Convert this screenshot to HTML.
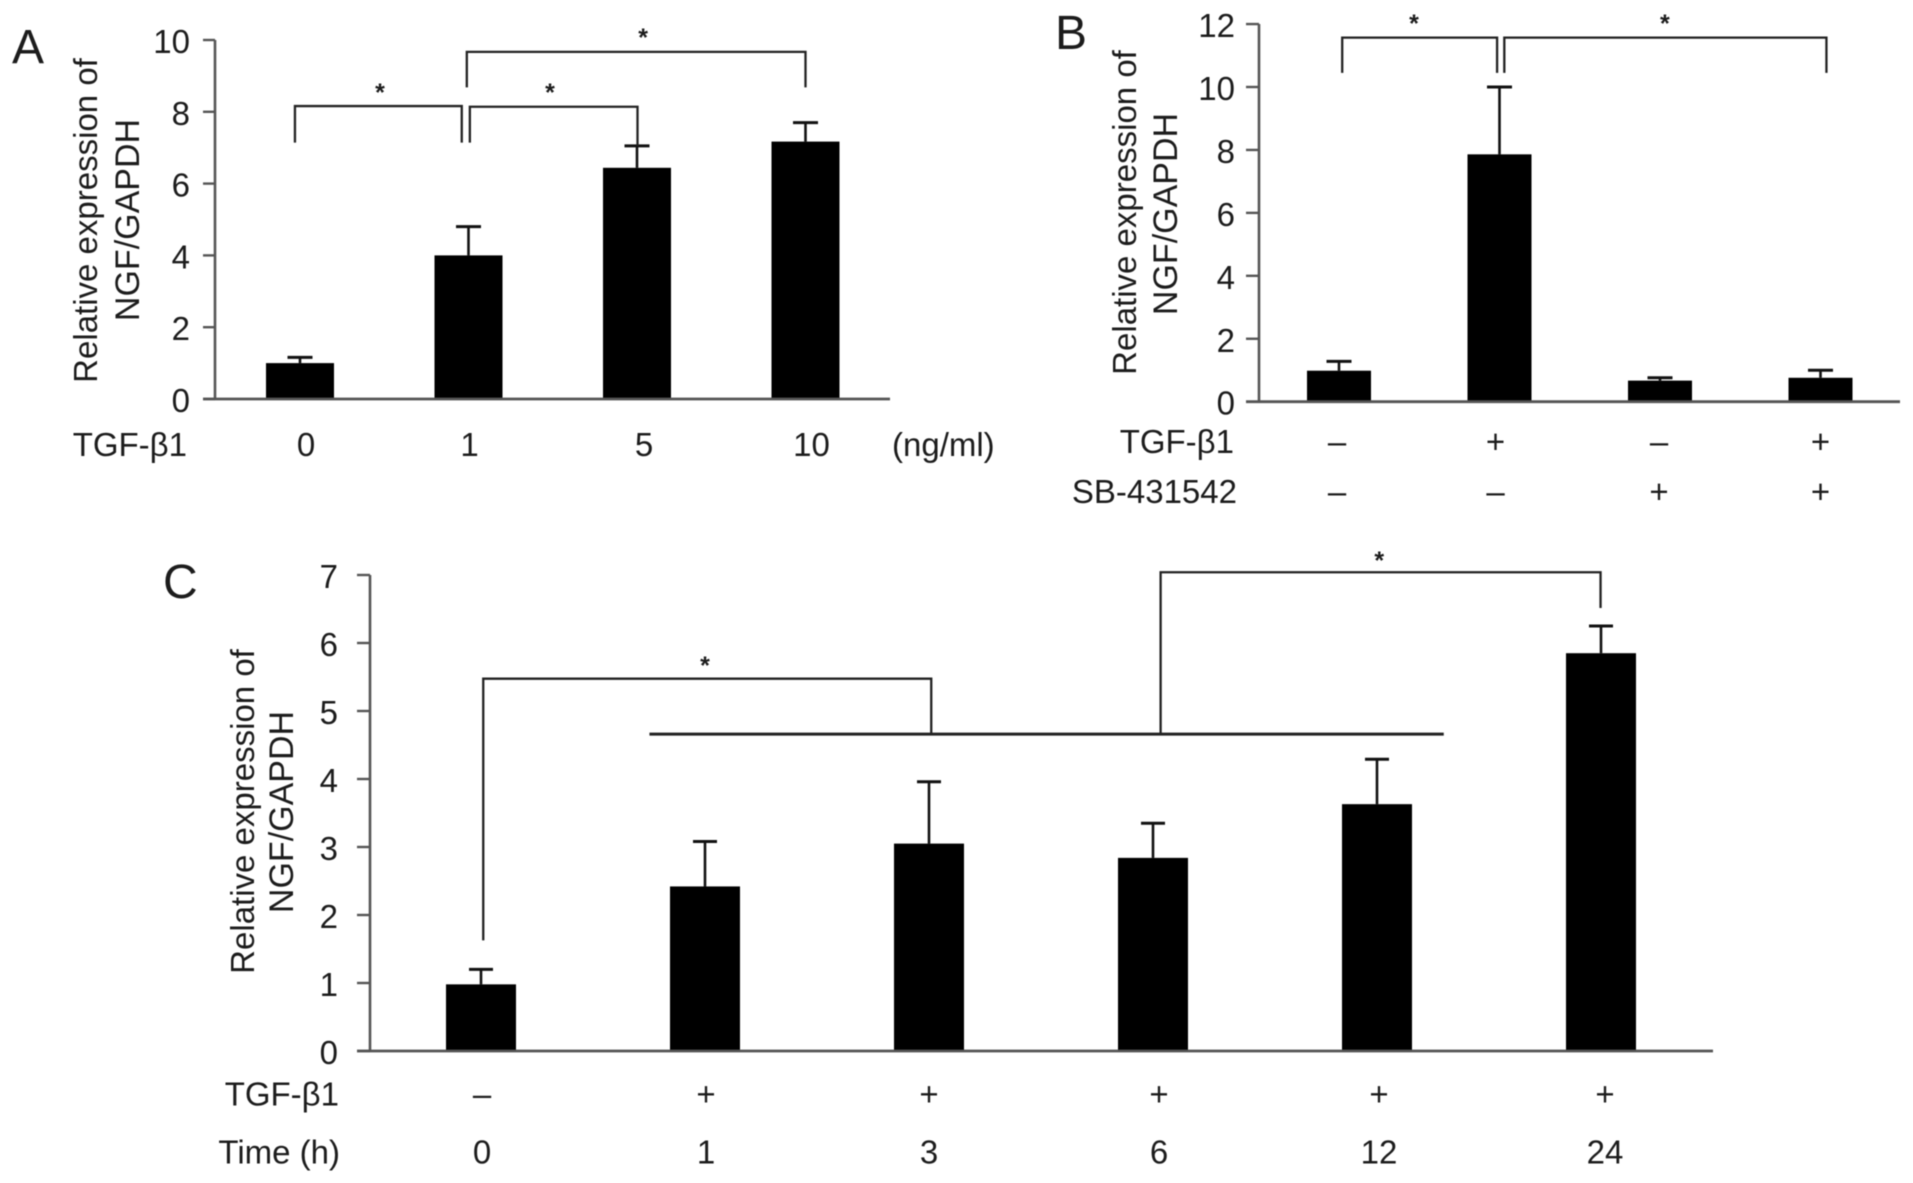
<!DOCTYPE html>
<html lang="en">
<head>
<meta charset="utf-8">
<title>NGF/GAPDH relative expression</title>
<style>
  html, body { margin: 0; padding: 0; background: #fff; }
  #figure { display: block; width: 1913px; height: 1183px; filter: blur(0.45px); }
  text { font-family: "Liberation Sans", "DejaVu Sans", sans-serif; fill: #1c1c1c; }
  .axis-title, .tick, .row { font-size: 33px; }
  .axis-title.second { font-size: 34px; }
  .panel-letter { font-size: 48px; }
  .star { font-size: 25px; font-weight: bold; text-anchor: middle; }
</style>
</head>
<body>
<svg id="figure" xmlns="http://www.w3.org/2000/svg" width="1913" height="1183" viewBox="0 0 1913 1183">
  <rect width="1913" height="1183" fill="#fff"/>

  <text class="panel-letter" x="12" y="63">A</text>
  <text class="panel-letter" x="1055" y="49">B</text>
  <text class="panel-letter" x="163" y="598">C</text>

  <text class="axis-title" text-anchor="middle" transform="translate(97 220.5) rotate(-90)">Relative expression of</text>
  <text class="axis-title second" text-anchor="middle" transform="translate(139 220) rotate(-90)">NGF/GAPDH</text>

  <text class="axis-title" text-anchor="middle" transform="translate(1136 212.5) rotate(-90)">Relative expression of</text>
  <text class="axis-title second" text-anchor="middle" transform="translate(1177 214) rotate(-90)">NGF/GAPDH</text>

  <text class="axis-title" text-anchor="middle" transform="translate(254 811.5) rotate(-90)">Relative expression of</text>
  <text class="axis-title second" text-anchor="middle" transform="translate(293 812) rotate(-90)">NGF/GAPDH</text>

  <text class="row" text-anchor="end" x="187" y="456">TGF-β1</text>
  <text class="row" x="892" y="456">(ng/ml)</text>

  <text class="row" text-anchor="end" x="1234" y="453">TGF-β1</text>
  <text class="row" text-anchor="end" x="1237" y="503">SB-431542</text>

  <text class="row" text-anchor="end" x="339" y="1105.5">TGF-β1</text>
  <text class="row" text-anchor="end" x="340" y="1163.5">Time (h)</text>
</svg>

<script>
// ---- Panel A data ----
const panelATicks = [0, 2, 4, 6, 8, 10];
const panelAValues = [1.0, 4.0, 6.44, 7.17];
const panelAErrorTops = [1.16, 4.8, 7.05, 7.7];
const panelADoseLabels = ['0', '1', '5', '10'];
// Brackets: category positions and axis values [from, to, top, leftEnd, rightEnd]
const panelABrackets = [
  [-0.03, 0.96, 8.16, 7.14, 7.14],
  [1.008, 2.003, 8.14, 7.14, 7.05],
  [0.99, 3.0, 9.67, 8.68, 8.68]
];
const panelAStars = [[0.475, 8.66], [1.484, 8.66], [2.036, 10.2]];

// ---- Panel B data ----
const panelBTicks = [0, 2, 4, 6, 8, 10, 12];
const panelBValues = [0.985, 7.86, 0.67, 0.76];
const panelBErrorTops = [1.28, 10.0, 0.76, 1.0];
const panelBTgfLabels = ['–', '+', '–', '+'];
const panelBSbLabels = ['–', '–', '+', '+'];
const panelBBrackets = [
  [0.02, 0.985, 11.57, 10.45, 10.45],
  [1.03, 3.037, 11.57, 10.45, 10.45]
];
const panelBStars = [[0.467, 12.16], [2.03, 12.16]];

// ---- Panel C data ----
const panelCTicks = [0, 1, 2, 3, 4, 5, 6, 7];
const panelCValues = [0.98, 2.42, 3.05, 2.84, 3.63, 5.85];
const panelCErrorTops = [1.2, 3.08, 3.96, 3.35, 4.29, 6.25];
const panelCTgfLabels = ['–', '+', '+', '+', '+', '+'];
const panelCTimeLabels = ['0', '1', '3', '6', '12', '24'];
const panelCBrackets = [
  [0.01, 2.01, 5.475, 1.626, 4.66],
  [3.034, 4.998, 7.04, 4.66, 6.515]
];
const panelCGroupLines = [[0.752, 4.298, 4.66]];
const panelCStars = [[1.0, 5.735], [4.01, 7.28]];

const NS = 'http://www.w3.org/2000/svg';
const figure = document.getElementById('figure');

function make(tag, attrs, name, parent) {
  const el = document.createElementNS(NS, tag);
  for (const key in attrs) el.setAttribute(key, attrs[key]);
  
  
  parent.appendChild(el);
  return el;
}

function drawPanel(p) {
  const g = make('g', {}, 'panel-' + p.id, figure);
  const xPos = function (i) { return p.firstCenter + p.step * i; };
  const yPos = function (v) { return p.baseline - p.unit * v; };
  const top = yPos(p.ticks[p.ticks.length - 1]);

  // bars first so the axis line sits over their feet
  p.values.forEach(function (v, i) {
    const cx = xPos(i);
    make('line', { x1: cx, x2: cx, y1: yPos(v), y2: yPos(p.errorTops[i]), stroke: '#111', 'stroke-width': 2.6 }, 'error-stem-' + p.id + '-' + i, g);
    make('line', { x1: cx - p.capHalf, x2: cx + p.capHalf, y1: yPos(p.errorTops[i]), y2: yPos(p.errorTops[i]), stroke: '#111', 'stroke-width': 3 }, 'error-cap-' + p.id + '-' + i, g);
    make('rect', { x: cx - p.barWidth / 2, y: yPos(v), width: p.barWidth, height: p.baseline - yPos(v), fill: '#000' }, 'bar-' + p.id + '-' + i, g);
  });

  // axes
  make('line', { x1: p.axisX, x2: p.axisX, y1: top, y2: p.baseline, stroke: '#555', 'stroke-width': 2.6 }, 'y-axis-' + p.id, g);
  make('line', { x1: p.axisX - p.tickLen, x2: p.axisRight, y1: p.baseline, y2: p.baseline, stroke: '#555', 'stroke-width': 2.8 }, 'x-axis-' + p.id, g);
  p.ticks.forEach(function (t) {
    make('line', { x1: p.axisX - p.tickLen, x2: p.axisX, y1: yPos(t), y2: yPos(t), stroke: '#555', 'stroke-width': 2.4 }, 'y-tick-' + p.id + '-' + t, g);
    const label = make('text', { class: 'tick', x: p.tickLabelRight, y: yPos(t) + p.tickBaseline, 'text-anchor': 'end' }, 'y-tick-label-' + p.id + '-' + t, g);
    label.textContent = String(t);
  });

  // significance brackets
  p.brackets.forEach(function (b, i) {
    const d = 'M' + xPos(b[0]) + ' ' + yPos(b[3]) + ' V' + yPos(b[2]) + ' H' + xPos(b[1]) + ' V' + yPos(b[4]);
    make('path', { d: d, fill: 'none', stroke: '#222', 'stroke-width': 2.3 }, 'significance-bracket-' + p.id + '-' + i, g);
  });
  (p.groupLines || []).forEach(function (l, i) {
    make('line', { x1: xPos(l[0]), x2: xPos(l[1]), y1: yPos(l[2]), y2: yPos(l[2]), stroke: '#222', 'stroke-width': 3 }, 'group-line-' + p.id + '-' + i, g);
  });
  p.stars.forEach(function (s, i) {
    const star = make('text', { class: 'star', x: xPos(s[0]), y: yPos(s[1]) + 13 }, 'significance-star-' + p.id + '-' + i, g);
    star.textContent = '*';
  });

  // rows beneath the x axis
  p.rows.forEach(function (row) {
    row.labels.forEach(function (text, i) {
      const t = make('text', { class: 'row', x: xPos(i) + p.rowShift + p.rowNudge[i], y: row.y, 'text-anchor': 'middle' }, 'row-' + row.name + '-' + p.id + '-' + i, g);
      t.textContent = text;
    });
  });
}

drawPanel({
  id: 'a', ticks: panelATicks, values: panelAValues, errorTops: panelAErrorTops,
  brackets: panelABrackets, stars: panelAStars,
  firstCenter: 300, step: 168.5, baseline: 399, unit: 35.9, barWidth: 68, capHalf: 12.5,
  axisX: 215, axisRight: 890, tickLen: 12, tickLabelRight: 190, tickBaseline: 13, rowShift: 5,
  rowNudge: [1, -4, 2, 1],
  rows: [{ name: 'dose', labels: panelADoseLabels, y: 456 }]
});

drawPanel({
  id: 'b', ticks: panelBTicks, values: panelBValues, errorTops: panelBErrorTops,
  brackets: panelBBrackets, stars: panelBStars,
  firstCenter: 1339, step: 160.5, baseline: 401.7, unit: 31.47, barWidth: 64, capHalf: 12.5,
  axisX: 1259, axisRight: 1900, tickLen: 13, tickLabelRight: 1235, tickBaseline: 13, rowShift: -2,
  rowNudge: [0, -2, 1, 2],
  rows: [
    { name: 'tgf', labels: panelBTgfLabels, y: 453 },
    { name: 'sb', labels: panelBSbLabels, y: 503 }
  ]
});

drawPanel({
  id: 'c', ticks: panelCTicks, values: panelCValues, errorTops: panelCErrorTops,
  brackets: panelCBrackets, groupLines: panelCGroupLines, stars: panelCStars,
  firstCenter: 481, step: 224, baseline: 1051, unit: 68, barWidth: 70, capHalf: 12,
  axisX: 370, axisRight: 1713, tickLen: 13, tickLabelRight: 338, tickBaseline: 13, rowShift: 2,
  rowNudge: [-1, -1, -2, 4, 0, 2],
  rows: [
    { name: 'tgf', labels: panelCTgfLabels, y: 1105.5 },
    { name: 'time', labels: panelCTimeLabels, y: 1163.5 }
  ]
});
</script>
</body>
</html>
